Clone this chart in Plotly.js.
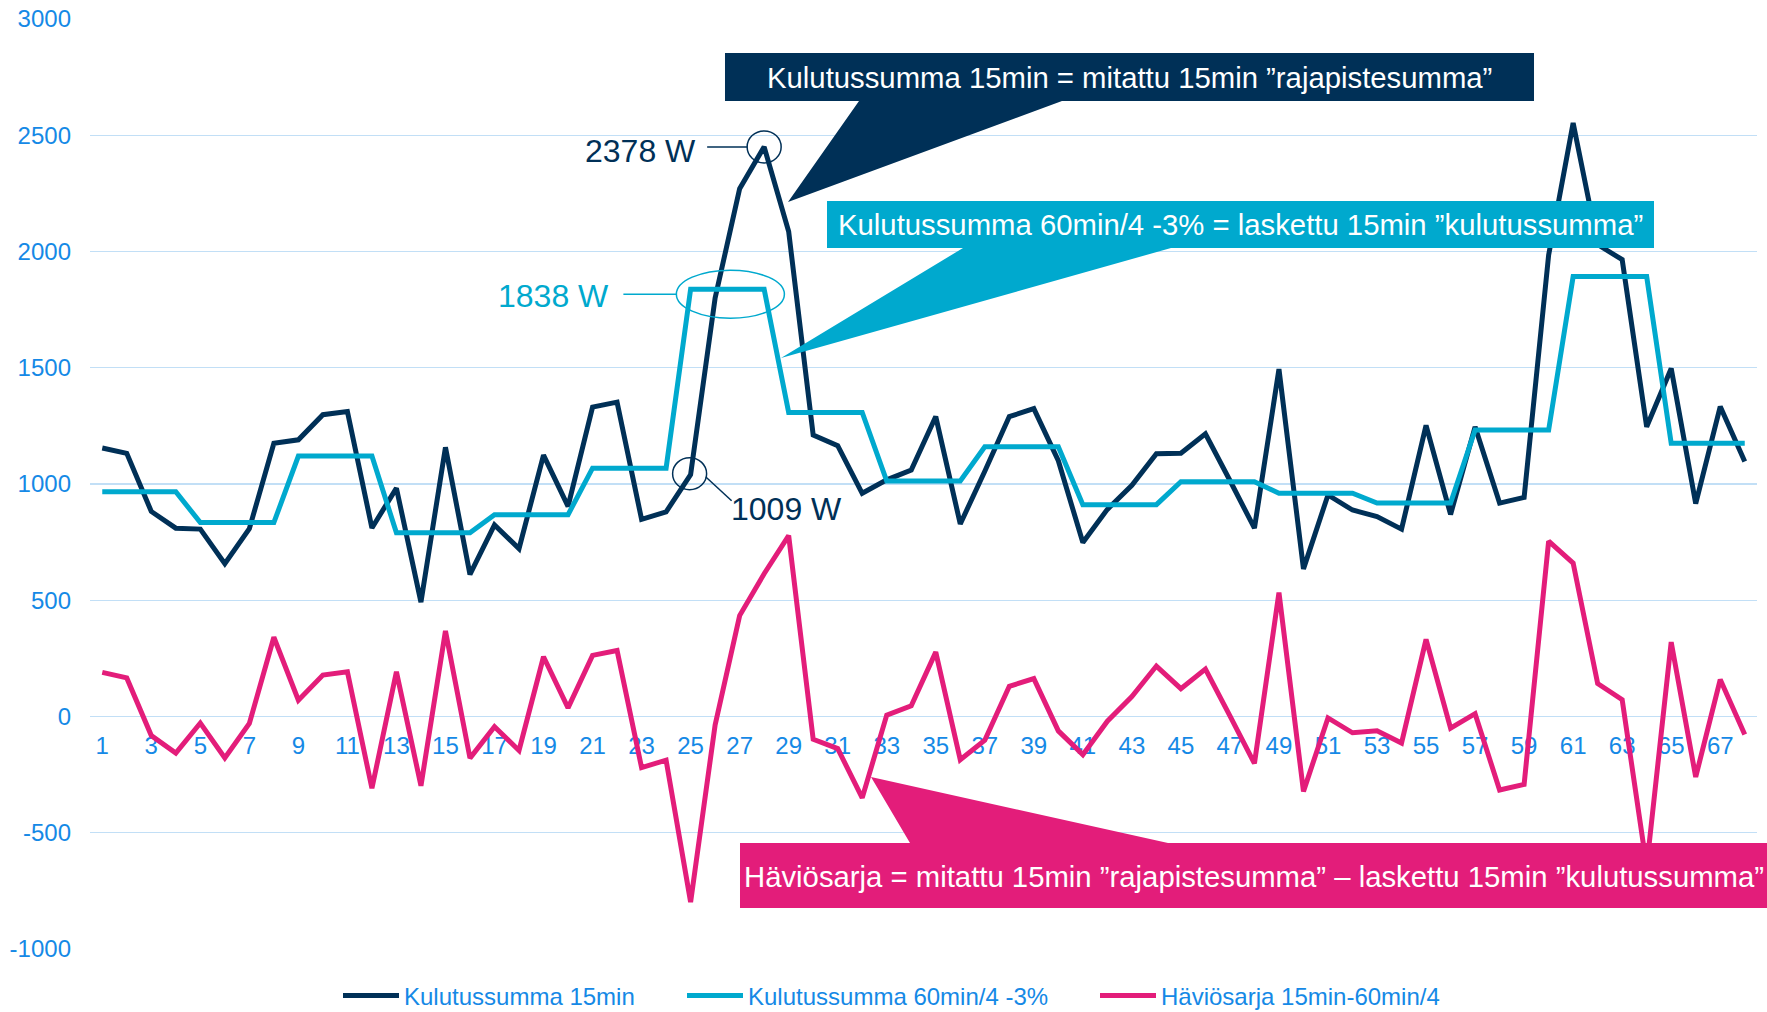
<!DOCTYPE html>
<html>
<head>
<meta charset="utf-8">
<script src="https://cdn.plot.ly/plotly-3.0.1.min.js"></script>
<style>
html,body{margin:0;padding:0;background:#ffffff;}
#chart{width:1767px;height:1012px;}
</style>
</head>
<body>
<div id="chart"></div>
<script>
// ---------- DATA ----------
const periods = [1,2,3,4,5,6,7,8,9,10,11,12,13,14,15,16,17,18,19,20,21,22,23,24,25,26,27,28,29,30,31,32,33,34,35,36,37,38,39,40,41,42,43,44,45,46,47,48,49,50,51,52,53,54,55,56,57,58,59,60,61,62,63,64,65,66,67,68];

const seriesNames = ['Kulutussumma 15min', 'Kulutussumma 60min/4 -3%', 'Häviösarja 15min-60min/4'];

const kulutus15min = [1155,1132,882,810,806,657,808,1175,1190,1298,1312,811,982,492,1158,611,824,722,1124,904,1331,1352,848,880,1040,1800,2270,2450,2086,1211,1165,960,1018,1060,1290,828,1055,1290,1324,1100,748,891,994,1130,1132,1216,1015,810,1494,635,953,888,860,806,1252,869,1246,918,942,1985,2553,2030,1965,1246,1497,916,1333,1097];

const kulutus60min = [967,967,967,967,834,834,834,834,1120,1120,1120,1120,790,790,790,790,868,868,868,868,1068,1068,1068,1068,1838,1838,1838,1838,1308,1308,1308,1308,1013,1013,1013,1013,1160,1160,1160,1160,911,911,911,911,1010,1010,1010,1010,960,960,960,960,918,918,918,918,1232,1232,1232,1232,1892,1892,1892,1892,1175,1175,1175,1175];

const haviosarja = [190,166,-82,-157,-28,-178,-30,341,70,178,192,-309,192,-298,368,-179,-44,-146,257,37,263,284,-220,-188,-798,-36,434,614,778,-98,-138,-350,6,46,277,-186,-102,130,163,-62,-164,-20,86,217,120,204,3,-202,533,-322,-6,-70,-61,-114,332,-50,12,-316,-292,754,660,142,72,-646,320,-260,159,-77];

const xTickVals = [1,3,5,7,9,11,13,15,17,19,21,23,25,27,29,31,33,35,37,39,41,43,45,47,49,51,53,55,57,59,61,63,65,67];
const xTickText = ['1','3','5','7','9','11','13','15','17','19','21','23','25','27','29','31','33','35','37','39','41','43','45','47','49','51','53','55','57','59','61','63','65','67'];
const yTickVals = [-1000,-500,0,500,1000,1500,2000,2500,3000];
const yTickText = ['-1000','-500','0','500','1000','1500','2000','2500','3000'];

const calloutTexts = [
  'Kulutussumma 15min = mitattu 15min ”rajapistesumma”',
  'Kulutussumma 60min/4 -3% = laskettu 15min ”kulutussumma”',
  'Häviösarja = mitattu 15min ”rajapistesumma” – laskettu 15min ”kulutussumma”'
];
const pointLabels = ['2378 W', '1838 W', '1009 W'];

// ---------- STYLE / GEOMETRY ----------
const W = 1767, H = 1012;
const M = {l: 90, r: 10, t: 19, b: 63};
const plotW = W - M.l - M.r, plotH = H - M.t - M.b;
const px = x => (x - M.l) / plotW;
const py = y => (H - M.b - y) / plotH;

const NAVY = '#003057', CYAN = '#00A9CE', PINK = '#E31D7A';
const TICKBLUE = '#1589E6', GRID = '#C2DFF6';
const FONT = '"Liberation Sans", Arial, Helvetica, sans-serif';

function poly(pts) {
  return pts.map((p, i) => (i ? 'L' : 'M') + px(p[0]).toFixed(5) + ',' + py(p[1]).toFixed(5)).join(' ') + ' Z';
}

const traces = [
  {x: periods, y: kulutus15min, name: seriesNames[0], type: 'scatter', mode: 'lines',
   line: {color: NAVY, width: 5}, legend: 'legend'},
  {x: periods, y: kulutus60min, name: seriesNames[1], type: 'scatter', mode: 'lines',
   line: {color: CYAN, width: 5}, legend: 'legend2'},
  {x: periods, y: haviosarja, name: seriesNames[2], type: 'scatter', mode: 'lines',
   line: {color: PINK, width: 5}, legend: 'legend3'}
];

// point index helpers (0-based)
const iPeak = 27, iLow = 24, iHourA = 24, iHourB = 27;
const hourMid = (periods[iHourA] + periods[iHourB]) / 2;

const shapes = [
  // callout 1 (navy)
  {type: 'path', xref: 'paper', yref: 'paper', layer: 'above', fillcolor: NAVY, line: {width: 0},
   path: poly([[725,53],[1534,53],[1534,101],[1062,101],[788,202],[859,101],[725,101]])},
  // callout 2 (cyan)
  {type: 'path', xref: 'paper', yref: 'paper', layer: 'above', fillcolor: CYAN, line: {width: 0},
   path: poly([[827,201],[1654,201],[1654,248],[1171,248],[781,358],[963,248],[827,248]])},
  // callout 3 (pink)
  {type: 'path', xref: 'paper', yref: 'paper', layer: 'above', fillcolor: PINK, line: {width: 0},
   path: poly([[740,843],[910,843],[871,777],[1168,843],[1767,843],[1767,908],[740,908]])},
  // circle around peak
  {type: 'circle', xref: 'x', yref: 'y', xsizemode: 'pixel', ysizemode: 'pixel',
   xanchor: periods[iPeak], yanchor: kulutus15min[iPeak], x0: -17, x1: 17, y0: -16, y1: 16,
   line: {color: NAVY, width: 1.5}, fillcolor: 'rgba(0,0,0,0)', layer: 'above'},
  {type: 'line', xref: 'x', yref: 'y', xsizemode: 'pixel', ysizemode: 'pixel',
   xanchor: periods[iPeak], yanchor: kulutus15min[iPeak], x0: -57, x1: -17, y0: 0, y1: 0,
   line: {color: NAVY, width: 1.5}, layer: 'above'},
  // ellipse around hour block
  {type: 'circle', xref: 'x', yref: 'y', xsizemode: 'pixel', ysizemode: 'pixel',
   xanchor: hourMid, yanchor: kulutus60min[iHourA], x0: -51, x1: 57, y0: -29, y1: 19,
   line: {color: CYAN, width: 1.5}, fillcolor: 'rgba(0,0,0,0)', layer: 'above'},
  {type: 'line', xref: 'x', yref: 'y', xsizemode: 'pixel', ysizemode: 'pixel',
   xanchor: hourMid, yanchor: kulutus60min[iHourA], x0: -104, x1: -51, y0: -5, y1: -5,
   line: {color: CYAN, width: 1.5}, layer: 'above'},
  // circle around low point
  {type: 'circle', xref: 'x', yref: 'y', xsizemode: 'pixel', ysizemode: 'pixel',
   xanchor: periods[iLow], yanchor: kulutus15min[iLow], x0: -18, x1: 16, y0: -15, y1: 17,
   line: {color: NAVY, width: 1.5}, fillcolor: 'rgba(0,0,0,0)', layer: 'above'},
  {type: 'line', xref: 'x', yref: 'y', xsizemode: 'pixel', ysizemode: 'pixel',
   xanchor: periods[iLow], yanchor: kulutus15min[iLow], x0: 15, x1: 41, y0: -2, y1: -26,
   line: {color: NAVY, width: 1.5}, layer: 'above'}
];

const calloutFont = {family: FONT, size: 29.3, color: '#ffffff'};
const annotations = [
  {xref: 'paper', yref: 'paper', x: px(1129.5), y: py(77), xanchor: 'center', yanchor: 'middle',
   text: calloutTexts[0], showarrow: false, font: calloutFont},
  {xref: 'paper', yref: 'paper', x: px(1240.5), y: py(224.5), xanchor: 'center', yanchor: 'middle',
   text: calloutTexts[1], showarrow: false, font: calloutFont},
  {xref: 'paper', yref: 'paper', x: px(1254), y: py(876), xanchor: 'center', yanchor: 'middle',
   text: calloutTexts[2], showarrow: false, font: calloutFont},
  {xref: 'x', yref: 'y', x: periods[iPeak], y: kulutus15min[iPeak], xanchor: 'right', yanchor: 'middle',
   xshift: -66, yshift: -4, text: pointLabels[0], showarrow: false,
   font: {family: FONT, size: 32, color: NAVY}},
  {xref: 'x', yref: 'y', x: hourMid, y: kulutus60min[iHourA], xanchor: 'right', yanchor: 'middle',
   xshift: -116, yshift: -7, text: pointLabels[1], showarrow: false,
   font: {family: FONT, size: 32, color: CYAN}},
  {xref: 'x', yref: 'y', x: periods[iLow], y: kulutus15min[iLow], xanchor: 'left', yanchor: 'middle',
   xshift: 38, yshift: -34, text: pointLabels[2], showarrow: false,
   font: {family: FONT, size: 32, color: NAVY}}
];

function legendAt(xPix) {
  return {orientation: 'h', xref: 'paper', x: px(xPix), xanchor: 'left',
          yref: 'container', y: (H - 996) / H, yanchor: 'middle',
          font: {family: FONT, size: 24, color: TICKBLUE}, itemwidth: 56,
          bgcolor: 'rgba(0,0,0,0)', borderwidth: 0};
}

const layout = {
  width: W, height: H,
  margin: M,
  paper_bgcolor: '#ffffff', plot_bgcolor: '#ffffff',
  font: {family: FONT, color: TICKBLUE},
  showlegend: true,
  legend: legendAt(338),
  legend2: legendAt(682),
  legend3: legendAt(1095),
  xaxis: {
    range: [0.5, 68.5], anchor: 'free', position: 0.25,
    tickmode: 'array', tickvals: xTickVals, ticktext: xTickText,
    showgrid: false, zeroline: false, showline: false, ticks: '',
    tickfont: {family: FONT, size: 24, color: TICKBLUE},
    ticklabelstandoff: 12, layer: 'below traces', fixedrange: true
  },
  yaxis: {
    range: [-1000, 3000],
    tickmode: 'array', tickvals: yTickVals, ticktext: yTickText,
    showgrid: true, gridcolor: GRID, gridwidth: 1.3,
    zeroline: false, showline: false, ticks: '',
    tickfont: {family: FONT, size: 24, color: TICKBLUE},
    ticklabelstandoff: 18, fixedrange: true
  },
  shapes: shapes,
  annotations: annotations
};

Plotly.newPlot('chart', traces, layout, {displayModeBar: false, staticPlot: true});
</script>
</body>
</html>
